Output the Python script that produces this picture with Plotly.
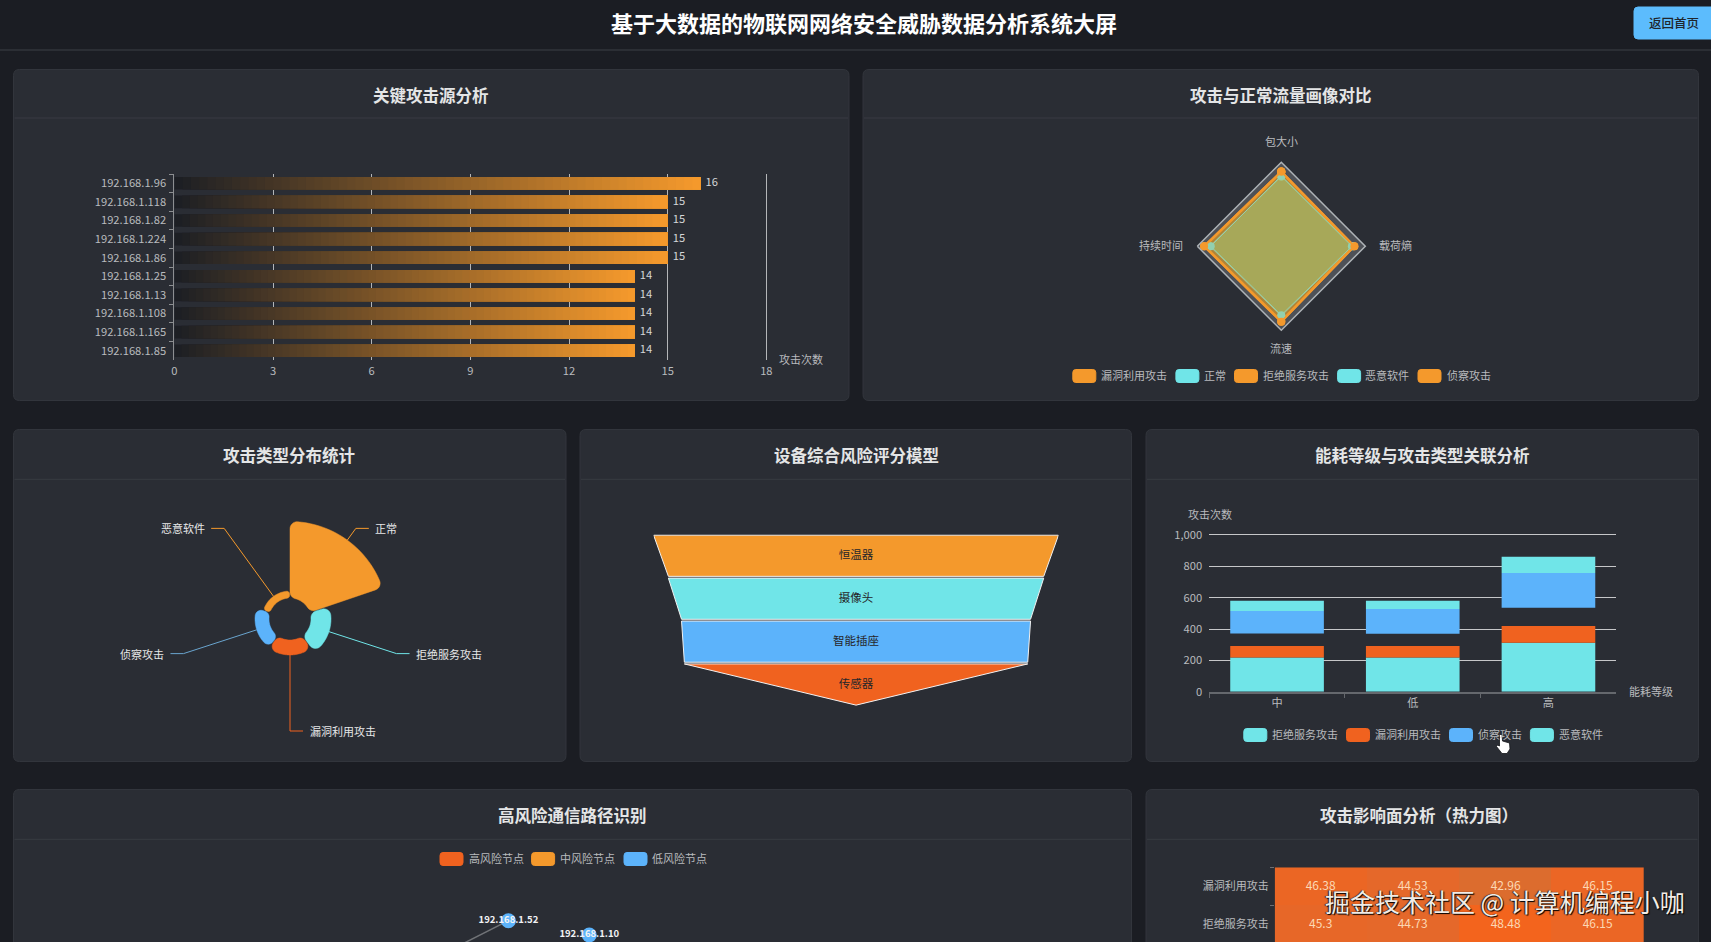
import math
import plotly.graph_objects as go

W, H = 1711, 942
BG = "#1b1d23"
PANEL = "#2a2d34"
EDGE = "#32353c"
DIVIDER = "#383b42"
TEXT = "#b9bbbe"
FONT = "Noto Sans CJK SC"
ORANGE = "#f4992c"
CYAN = "#70e5e8"
BLUE = "#5cb3fb"
RED = "#f0621f"
ORANGE_FILL = "rgba(225,160,44,0.3)"
CYAN_FILL = "rgba(120,235,170,0.3)"

# ---- data ----
source_ips = ["192.168.1.96", "192.168.1.118", "192.168.1.82", "192.168.1.224", "192.168.1.86",
              "192.168.1.25", "192.168.1.13", "192.168.1.108", "192.168.1.165", "192.168.1.85"]
source_counts = [16, 15, 15, 15, 15, 14, 14, 14, 14, 14]

radar_axes = ["包大小", "载荷熵", "流速", "持续时间"]
radar_exploit = [89, 87, 90, 92]
radar_normal = [83, 85, 83, 85]
radar_dos = [88, 86, 89, 91]
radar_malware = [84, 84, 82, 84]
radar_recon = [89, 87, 90, 92]

attack_types = ["正常", "拒绝服务攻击", "漏洞利用攻击", "侦察攻击", "恶意软件"]
attack_values = [76.5, 20, 15, 14, 7]

device_names = ["恒温器", "摄像头", "智能插座", "传感器"]
device_scores = [100, 92.7, 86.2, 84.8]

energy_levels = ["中", "低", "高"]
energy_dos = [219, 219, 313]
energy_exploit = [72, 72, 106]
energy_unlisted = [81, 79, 117]
energy_recon = [143, 158, 221]
energy_malware = [66, 53, 104]

node_names = ["192.168.1.52", "192.168.1.10", "192.168.1.210"]
node_x = [44.4, 51.75, 60.45]
node_y = [20.9, 6.9, -2.9]
edge_x = [44.4, 37.3]
edge_y = [20.9, -17.8]

heat_rows = ["漏洞利用攻击", "拒绝服务攻击"]
heat_columns = ["A", "B", "C", "D"]
heat_values = [[46.38, 44.53, 42.96, 46.15],
               [45.3, 44.73, 48.48, 46.15]]


def px(x):
    return x / W


def py(y):
    return 1 - y / H


def rounded_path(x0, y0, x1, y1, r):
    """Rounded rectangle path in paper fractions, from pixel corners."""
    pts = [
        f"M {px(x0 + r)} {py(y0)}", f"L {px(x1 - r)} {py(y0)}", f"Q {px(x1)} {py(y0)} {px(x1)} {py(y0 + r)}",
        f"L {px(x1)} {py(y1 - r)}", f"Q {px(x1)} {py(y1)} {px(x1 - r)} {py(y1)}",
        f"L {px(x0 + r)} {py(y1)}", f"Q {px(x0)} {py(y1)} {px(x0)} {py(y1 - r)}",
        f"L {px(x0)} {py(y0 + r)}", f"Q {px(x0)} {py(y0)} {px(x0 + r)} {py(y0)}", "Z",
    ]
    return " ".join(pts)


shapes = []
annotations = []


def box(x0, y0, x1, y1, r, fill, line=None, layer="below"):
    shapes.append(dict(type="path", xref="paper", yref="paper", layer=layer, path=rounded_path(x0, y0, x1, y1, r),
                       fillcolor=fill, line=dict(color=line or fill, width=1)))


def rule(x0, y0, x1, y1, color, width=1, layer="below"):
    shapes.append(dict(type="line", xref="paper", yref="paper", layer=layer, x0=px(x0), x1=px(x1), y0=py(y0), y1=py(y1),
                       line=dict(color=color, width=width)))


def label(text, x, y, size=11, color=TEXT, anchor="center", weight=None, shadow=None):
    font = dict(family=FONT, size=size, color=color)
    if weight:
        font["weight"] = weight
    if shadow:
        font["shadow"] = shadow
    annotations.append(dict(text=text, x=px(x), y=py(y - 0.7), xref="paper", yref="paper", xanchor=anchor, yanchor="middle",
                            showarrow=False, font=font, borderpad=0))


def panel(x0, y0, x1, y1, divider_y, title, title_x, title_y):
    box(x0, y0, x1, y1, 6, PANEL, EDGE)
    rule(x0 + 1, divider_y, x1 - 1, divider_y, DIVIDER)
    label(title, title_x, title_y, size=16.5, color="#e4e5e6", weight=700)


def swatches(items, y):
    for name, color, sx, tx in items:
        box(sx, y - 6.5, sx + 23, y + 6.5, 3, color)
        label(name, tx, y, anchor="left")


# ---- page furniture ----
rule(0, 50, W, 50, "#3d4046")
label("基于大数据的物联网网络安全威胁数据分析系统大屏", 864, 23, size=22, color="#ffffff", weight=700)
box(1634, 7, 1716, 39, 4, "#5cbcfd")
label("返回首页", 1674, 23.5, size=12.5, color="#20252b", weight=500)

panel(13.5, 69.5, 849, 400.5, 118, "关键攻击源分析", 430.5, 95.7)
panel(863, 69.5, 1698.5, 400.5, 118, "攻击与正常流量画像对比", 1280.6, 95.7)
panel(13.5, 429.5, 566, 761.5, 479.3, "攻击类型分布统计", 289, 455.7)
panel(580, 429.5, 1131.5, 761.5, 479.3, "设备综合风险评分模型", 856, 455.7)
panel(1146, 429.5, 1698.5, 761.5, 479.3, "能耗等级与攻击类型关联分析", 1422.6, 455.7)
panel(13.5, 789.5, 1131.5, 960, 839.3, "高风险通信路径识别", 572.4, 815.7)
panel(1146, 789.5, 1698.5, 960, 839.3, "攻击影响面分析（热力图）", 1418.6, 815.7)

fig = go.Figure()

# ---- horizontal bars, each painted as nested segments fading from dark to orange ----
STEPS = 64
start_rgb, end_rgb = (29, 31, 36), (244, 153, 44)
seg_y, seg_x, seg_base, seg_color = [], [], [], []
for ip, count in zip(source_ips, source_counts):
    for s in range(STEPS):
        t = s / (STEPS - 1)
        seg_y.append(ip)
        seg_base.append(count * s / STEPS)
        seg_x.append(count - count * s / STEPS)
        seg_color.append("rgb(%d,%d,%d)" % tuple(round(a + (b - a) * t) for a, b in zip(start_rgb, end_rgb)))
fig.add_trace(go.Bar(orientation="h", y=seg_y, x=seg_x, base=seg_base, width=0.68, xaxis="x", yaxis="y",
                     marker=dict(color=seg_color, line=dict(width=0)), showlegend=False, hoverinfo="skip"))
fig.add_trace(go.Scatter(x=source_counts, y=source_ips, mode="text", text=["\u00a0\u00a0" + str(v) for v in source_counts],
                         textposition="middle right", textfont=dict(size=11.2, color="#d5d6d8"),
                         xaxis="x", yaxis="y", showlegend=False, hoverinfo="skip"))
label("攻击次数", 801, 360)

# ---- radar ----
radar_series = [("漏洞利用攻击", radar_exploit, ORANGE, ORANGE_FILL, 2), ("正常", radar_normal, CYAN, CYAN_FILL, 1),
                ("拒绝服务攻击", radar_dos, ORANGE, ORANGE_FILL, 2), ("恶意软件", radar_malware, CYAN, CYAN_FILL, 1),
                ("侦察攻击", radar_recon, ORANGE, ORANGE_FILL, 2)]
for name, values, color, fill, thickness in radar_series:
    fig.add_trace(go.Scatterpolar(r=values + values[:1], theta=radar_axes + radar_axes[:1], subplot="polar", mode="lines+markers",
                                  fill="toself", fillcolor=fill, name=name, showlegend=False,
                                  line=dict(color=color, width=thickness), marker=dict(color=color, size=8), hoverinfo="skip"))
label("包大小", 1281, 142)
label("载荷熵", 1395.7, 246)
label("流速", 1281, 349)
label("持续时间", 1161, 246)
swatches([("漏洞利用攻击", ORANGE, 1072.8, 1100.4), ("正常", CYAN, 1175.9, 1203), ("拒绝服务攻击", ORANGE, 1234.5, 1262),
          ("恶意软件", CYAN, 1337.6, 1364), ("侦察攻击", ORANGE, 1418, 1445.6)], 376)

# ---- rose chart: equal-angle sectors with rounded corners, radius from the value ----
ROSE_CX, ROSE_CY, ROSE_HOLE, SECTOR = 290, 619, 21, 72
rose_colors = [ORANGE, CYAN, RED, BLUE, ORANGE]
rose_lines = [ORANGE, CYAN, RED, "#6aa5cf", ORANGE]


def sector_outline(r0, r1, a0, a1, corner):
    """Polar outline (r, degrees) of an annular sector with filleted corners."""
    out_span = math.degrees(math.asin(corner / (r1 - corner)))
    in_span = math.degrees(math.asin(corner / (r0 + corner)))
    pts = []

    def fillet(cr, ca, start, stop):
        for k in range(9):
            phi = math.radians(start + (stop - start) * k / 8)
            x = cr * math.sin(math.radians(ca)) + corner * math.sin(phi)
            y = cr * math.cos(math.radians(ca)) + corner * math.cos(phi)
            pts.append((math.hypot(x, y), math.degrees(math.atan2(x, y))))

    fillet(r1 - corner, a0 + out_span, a0 - 90, a0 + out_span)
    for k in range(1, 24):
        pts.append((r1, a0 + out_span + (a1 - a0 - 2 * out_span) * k / 24))
    fillet(r1 - corner, a1 - out_span, a1 - out_span, a1 + 90)
    fillet(r0 + corner, a1 - in_span, a1 + 90, a1 + 180 - in_span)
    for k in range(1, 12):
        pts.append((r0, a1 - in_span + (a0 - a1 + 2 * in_span) * k / 12))
    fillet(r0 + corner, a0 + in_span, a0 + 180 + in_span, a0 + 270)
    pts.append(pts[0])
    return pts


for i, (name, value) in enumerate(zip(attack_types, attack_values)):
    a0, a1 = i * SECTOR + 0.8, (i + 1) * SECTOR - 0.8
    if i == 0:
        a0 = 0
    outer = ROSE_HOLE + value
    outline = sector_outline(ROSE_HOLE, outer, a0, a1, min(7, value * 0.42))
    fig.add_trace(go.Scatterpolar(r=[p[0] for p in outline], theta=[p[1] for p in outline], subplot="polar2", mode="lines",
                                  fill="toself", fillcolor=rose_colors[i], line=dict(color=rose_colors[i], width=0.5),
                                  name=name, showlegend=False, hoverinfo="skip"))
    mid = math.radians((i + 0.5) * SECTOR)
    sx, sy = ROSE_CX + outer * math.sin(mid), ROSE_CY - outer * math.cos(mid)
    ex, ey = ROSE_CX + 112 * math.sin(mid), ROSE_CY - 112 * math.cos(mid)
    direction = 1 if math.sin(mid) >= -1e-6 else -1
    rule(sx, sy, ex, ey, rose_lines[i], layer="above")
    rule(ex, ey, ex + direction * 13, ey, rose_lines[i], layer="above")
    label(name, ex + direction * 18.5, ey + 0.7, size=11, color="#e6e7e8", anchor="left" if direction > 0 else "right")

# ---- funnel: trapezoids with their widths taken from the scores ----
funnel_colors = [ORANGE, CYAN, BLUE, RED]
for i, (name, score) in enumerate(zip(device_names, device_scores)):
    next_score = device_scores[i + 1] if i + 1 < len(device_scores) else 0
    top, bottom = i + 0.02, i + 0.98
    fig.add_trace(go.Scatter(x=[-score / 2, score / 2, next_score / 2, -next_score / 2, -score / 2],
                             y=[top, top, bottom, bottom, top], mode="lines", fill="toself", fillcolor=funnel_colors[i],
                             line=dict(color="#f2f2f2", width=1), xaxis="x3", yaxis="y3", showlegend=False, hoverinfo="skip"))
fig.add_trace(go.Scatter(x=[0] * len(device_names), y=[i + 0.52 for i in range(len(device_names))], mode="text", text=device_names,
                         textposition="middle center", textfont=dict(size=11.5, color="#26262a"), xaxis="x3", yaxis="y3",
                         showlegend=False, hoverinfo="skip"))

# ---- stacked bars; the unlisted series only leaves its gap in the stack ----
running = [0, 0, 0]
for values, color, visible in [(energy_dos, CYAN, True), (energy_exploit, RED, True), (energy_unlisted, None, False),
                               (energy_recon, BLUE, True), (energy_malware, CYAN, True)]:
    if visible:
        fig.add_trace(go.Bar(x=energy_levels, y=values, base=list(running), width=0.69, xaxis="x2", yaxis="y2",
                             marker=dict(color=color, line=dict(width=0)), showlegend=False, hoverinfo="skip"))
    running = [a + b for a, b in zip(running, values)]
label("攻击次数", 1209.5, 515)
label("能耗等级", 1627.8, 691.7, anchor="left")
swatches([("拒绝服务攻击", CYAN, 1243.8, 1271), ("漏洞利用攻击", RED, 1346.5, 1373.8),
          ("侦察攻击", BLUE, 1449.5, 1476.9), ("恶意软件", CYAN, 1530.4, 1557.7)], 735)

# ---- pointer over the legend ----
hand = [(1499.5, 734.5), (1502, 734.5), (1502.5, 741), (1509.5, 743), (1510, 749), (1507, 753.5), (1502, 753.5), (1496.5, 746.5),
        (1497.5, 745), (1499.5, 746)]
shapes.append(dict(type="path", xref="paper", yref="paper", layer="above",
                   path="M " + " L ".join(f"{px(x)} {py(y)}" for x, y in hand) + " Z",
                   fillcolor="#ffffff", line=dict(color="#15161a", width=0.8)))

# ---- network ----
swatches([("高风险节点", RED, 440, 467.6), ("中风险节点", ORANGE, 531.6, 559), ("低风险节点", BLUE, 624, 651)], 859)
fig.add_trace(go.Scatter(x=edge_x, y=edge_y, mode="lines", line=dict(color="#707377", width=1.5), xaxis="x4", yaxis="y4",
                         showlegend=False, hoverinfo="skip"))
fig.add_trace(go.Scatter(x=node_x, y=node_y, mode="markers+text", text=node_names, textposition="middle center",
                         textfont=dict(size=9.5, color="#f2f3f4", weight=700), cliponaxis=False,
                         marker=dict(color=BLUE, size=15), xaxis="x4", yaxis="y4", showlegend=False, hoverinfo="skip"))

# ---- heatmap ----
fig.add_trace(go.Heatmap(z=heat_values, x=heat_columns, y=heat_rows, xaxis="x5", yaxis="y5", zmin=42.96, zmax=48.48,
                         colorscale=[[0, "#dc6c2e"], [0.3, "#e5682a"], [1, "#f3641d"]], showscale=False, hoverinfo="skip",
                         text=[[str(v) for v in row] for row in heat_values], texttemplate="%{text}",
                         textfont=dict(size=12, color="#fcd8b4")))
label("掘金技术社区 @ 计算机编程小咖", 1505, 901.5, size=25, color="#f2ece6", shadow="1px 1px 1px #000000, -1px 0 1px #222222")

axis_font = dict(family=FONT, size=11.2, color=TEXT)
hidden = dict(visible=False, fixedrange=True)


def dom_x(a, b):
    return [px(a), px(b)]


def dom_y(top, bottom):
    return [py(bottom), py(top)]


fig.update_layout(
    width=W, height=H, autosize=False, margin=dict(l=0, r=0, t=0, b=0, pad=0, autoexpand=False),
    paper_bgcolor=BG, plot_bgcolor="rgba(0,0,0,0)", font=dict(family=FONT, color=TEXT), barmode="overlay",
    shapes=shapes, annotations=annotations, showlegend=False,
    xaxis=dict(domain=dom_x(174.4, 768), range=[0, 18.05], dtick=3, tick0=0, showline=False, zeroline=False, ticks="",
               showgrid=True, gridcolor="#b4b6b8", gridwidth=1, tickfont=axis_font, ticklabelstandoff=3, anchor="y"),
    yaxis=dict(domain=dom_y(174, 360), type="category", categoryorder="array", categoryarray=source_ips, range=[9.5, -0.5],
               tickson="boundaries", ticks="outside", ticklen=4, tickcolor="#8c8e91", showline=True, linecolor="#8c8e91",
               showgrid=False, zeroline=False, tickfont=axis_font, anchor="x", ticklabelstandoff=5),
    xaxis2=dict(domain=dom_x(1209.2, 1616.3), type="category", categoryorder="array", categoryarray=energy_levels,
                tickson="boundaries", ticks="outside", ticklen=4, tickcolor="#65686d", showline=True, linecolor="#65686d", linewidth=2,
                showgrid=False, tickfont=axis_font, anchor="y2"),
    yaxis2=dict(domain=dom_y(533.4, 691.7), range=[0, 1010], dtick=200, tickformat=",", showline=False, zeroline=False,
                showgrid=True, gridcolor="#c6c7c9", gridwidth=1, tickfont=axis_font, anchor="x2", ticklabelstandoff=6),
    xaxis3=dict(domain=dom_x(653.6, 1058.5), range=[-50, 50], anchor="y3", **hidden),
    yaxis3=dict(domain=dom_y(534.3, 706), range=[4, 0], anchor="x3", **hidden),
    xaxis4=dict(domain=dom_x(20, 1120), range=[0, 100], anchor="y4", **hidden),
    yaxis4=dict(domain=dom_y(840, 942), range=[0, 100], anchor="x4", **hidden),
    xaxis5=dict(domain=dom_x(1274.7, 1644), type="category", showticklabels=False, ticks="", showgrid=False, zeroline=False,
                showline=False, anchor="y5", fixedrange=True),
    yaxis5=dict(domain=dom_y(867.3, 942), type="category", categoryorder="array", categoryarray=heat_rows,
                range=[1.466, -0.5], autorange=False, tickson="boundaries", ticks="outside", ticklen=4, tickcolor="#6d6f73",
                showline=False, showgrid=False, zeroline=False, tickfont=dict(family=FONT, size=11, color=TEXT), anchor="x5",
                ticklabelstandoff=5),
    polar=dict(domain=dict(x=dom_x(1197.3, 1365.3), y=dom_y(162, 330.5)), bgcolor="#4e5157", gridshape="linear",
               radialaxis=dict(range=[0, 100], tickvals=[100], showticklabels=False, showline=False, ticks="", gridcolor="#aeb3b7"),
               angularaxis=dict(direction="clockwise", rotation=90, showticklabels=False, ticks="", showgrid=False, showline=True,
                                linecolor="#aeb3b7", linewidth=1.5)),
    polar2=dict(domain=dict(x=dom_x(ROSE_CX - 110, ROSE_CX + 110), y=dom_y(ROSE_CY - 110, ROSE_CY + 110)), bgcolor="rgba(0,0,0,0)",
                radialaxis=dict(range=[0, 110], visible=False),
                angularaxis=dict(direction="clockwise", rotation=90, thetaunit="degrees", visible=False)),
)

fig.write_html("out.html", config=dict(displayModeBar=False))
